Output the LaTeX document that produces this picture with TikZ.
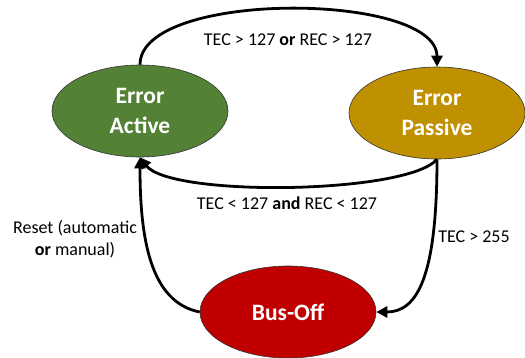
\documentclass[tikz,border=0pt]{standalone}
\usepackage{fontspec}
\setmainfont{Carlito}
\usetikzlibrary{shapes.geometric,arrows.meta}
\definecolor{canActiveFill}{HTML}{538135}
\definecolor{canPassiveFill}{HTML}{BF9000}
\definecolor{canBusOffFill}{HTML}{C00000}
\tikzset{
  canState/.style={ellipse, draw=black!80, line width=0.6pt, text=white,
    font=\fontsize{23.5}{30}\selectfont\bfseries, align=center,
    minimum width=176pt, minimum height=92pt, inner sep=0pt},
  canTrans/.style={line width=2.8pt, -{Triangle[length=11pt,width=11pt]}},
  canLabel/.style={font=\fontsize{18}{22}\selectfont, align=center, inner sep=0pt}
}

\begin{document}
\begin{tikzpicture}[x=1pt,y=-1pt]
\useasboundingbox (0,0) rectangle (525,357);
\node[canState, fill=canActiveFill] (active) at (140,111) {Error\\Active};
\node[canState, fill=canPassiveFill] (passive) at (437,113) {Error\\Passive};
\node[canState, fill=canBusOffFill] (busoff) at (288,312) {Bus-Off};
% transitions
\draw[canTrans] (active.north) .. controls +(0,-75) and +(0,-75) .. (passive.north);
\draw[canTrans] (passive.south) .. controls +(-30,35) and +(30,40) .. (active.south);
\draw[canTrans] (passive.south) .. controls +(0,120) and +(40,0) .. (busoff.east);
\draw[canTrans] (busoff.west) .. controls +(-50,-10) and +(0,80) .. (active.south);
% labels
\node[canLabel] (upLabel) at (288,40) {TEC > 127 \textbf{or} REC > 127};
\node[canLabel] (downLabel) at (287,203) {TEC < 127 \textbf{and} REC < 127};
\node[canLabel] (offLabel) at (474,237) {TEC > 255};
\node[canLabel] (resetLabel) at (75,239) {Reset (automatic\\\textbf{or} manual)};
\end{tikzpicture}
\end{document}
